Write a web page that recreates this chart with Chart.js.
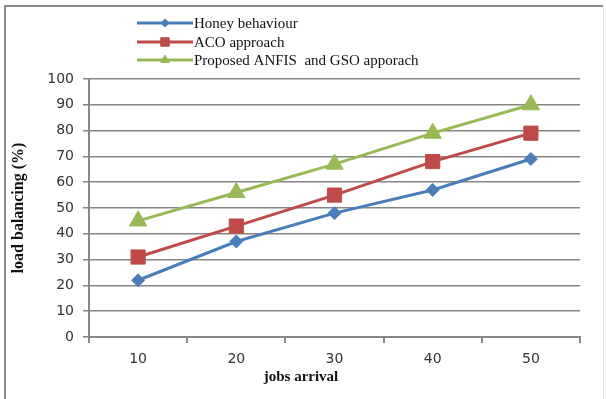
<!DOCTYPE html>
<html>
<head>
<meta charset="utf-8">
<script src="https://cdn.jsdelivr.net/npm/chart.js@4.4.0/dist/chart.umd.min.js"></script>
<style>
    html, body { margin: 0; padding: 0; background: #fff; }
    #wrap { position: relative; width: 606px; height: 399px; }
</style>
</head>
<body>
<div id="wrap"><canvas id="chart"></canvas></div>
<script>
const jobsArrival = ["10", "20", "30", "40", "50"];
const honeyBehaviour = [22, 37, 48, 57, 69];
const acoApproach = [31, 43, 55, 68, 79];
const proposedAnfisGso = [45, 56, 67, 79, 90];
const yTicks = [0, 10, 20, 30, 40, 50, 60, 70, 80, 90, 100];

const serif = "'Liberation Serif', 'Times New Roman', serif";
const sans = "'DejaVu Sans', Verdana, sans-serif";

// frame, legend and x title drawn by hand, like the excel export
const decorPlugin = {
    id: "decor",
    beforeDraw(chart) {
        const c = chart.ctx;
        c.save();
        c.strokeStyle = "#8a8a8a";
        c.lineWidth = 2;
        c.beginPath();
        c.moveTo(5, 399);
        c.lineTo(5, 6);
        c.lineTo(603, 6);
        c.stroke();
        c.strokeStyle = "#e4e4e4";
        c.lineWidth = 1;
        c.beginPath();
        c.moveTo(603.5, 6);
        c.lineTo(603.5, 399);
        c.stroke();
        c.restore();
    },
    afterDraw(chart) {
        const c = chart.ctx;
        c.save();
        const rows = [23, 42, 60];
        chart.data.datasets.forEach((ds, i) => {
            const y = rows[i];
            c.strokeStyle = ds.borderColor;
            c.fillStyle = ds.backgroundColor;
            c.lineWidth = 3;
            c.beginPath();
            c.moveTo(137, y);
            c.lineTo(193, y);
            c.stroke();
            c.lineWidth = 1;
            Chart.helpers.drawPoint(c, {
                pointStyle: ds.pointStyle,
                radius: ds.legendRadius,
                rotation: 0,
                borderWidth: 1
            }, 165, y);
            c.fillStyle = "#111";
            c.font = "15px " + serif;
            c.textBaseline = "middle";
            c.textAlign = "left";
            c.fillText(ds.label, 194, y + 1);
        });
        c.font = "bold 15px " + serif;
        c.textAlign = "center";
        c.fillStyle = "#111";
        c.fillText("jobs arrival", 301, 377);
        c.restore();
    }
};

function series(label, data, color, style, radius, legendRadius) {
    return {
        label: label,
        data: data,
        borderColor: color,
        backgroundColor: color,
        borderWidth: 3,
        pointStyle: style,
        pointRadius: radius,
        pointHoverRadius: radius,
        pointBorderWidth: 1,
        legendRadius: legendRadius,
        tension: 0
    };
}

new Chart(document.getElementById("chart"), {
    type: "line",
    data: {
        labels: jobsArrival,
        datasets: [
            series("Honey behaviour", honeyBehaviour, "#4a7ebb", "rectRot", 6.5, 4),
            series("ACO approach", acoApproach, "#be4b48", "rect", 10, 6),
            series("Proposed ANFIS  and GSO apporach", proposedAnfisGso, "#98b954", "triangle", 10, 5)
        ]
    },
    options: {
        responsive: true,
        maintainAspectRatio: false,
        animation: false,
        layout: { padding: { top: 79, right: 26, bottom: 0, left: 0 } },
        plugins: {
            legend: { display: false },
            tooltip: { enabled: false }
        },
        scales: {
            x: {
                offset: true,
                grid: {
                    offset: true,
                    drawOnChartArea: false,
                    drawTicks: true,
                    tickLength: 6,
                    color: "#888",
                    lineWidth: 2
                },
                border: { color: "#888", width: 2 },
                ticks: {
                    color: "#333",
                    font: { family: sans, size: 14 },
                    padding: 8
                },
                afterFit(scale) { scale.height = 62; }
            },
            y: {
                min: 0,
                max: 100,
                afterBuildTicks(scale) { scale.ticks = yTicks.map(v => ({ value: v })); },
                grid: {
                    color: "#858585",
                    lineWidth: 1.5,
                    tickLength: 6
                },
                border: { color: "#888", width: 2 },
                ticks: {
                    color: "#333",
                    font: { family: sans, size: 14 },
                    padding: 9
                },
                title: {
                    display: true,
                    text: "load balancing (%)",
                    color: "#111",
                    font: { family: serif, size: 16, weight: "bold" },
                    padding: { top: 9, bottom: 0 }
                },
                afterFit(scale) { scale.width = 89; }
            }
        }
    },
    plugins: [decorPlugin]
});
</script>
</body>
</html>
